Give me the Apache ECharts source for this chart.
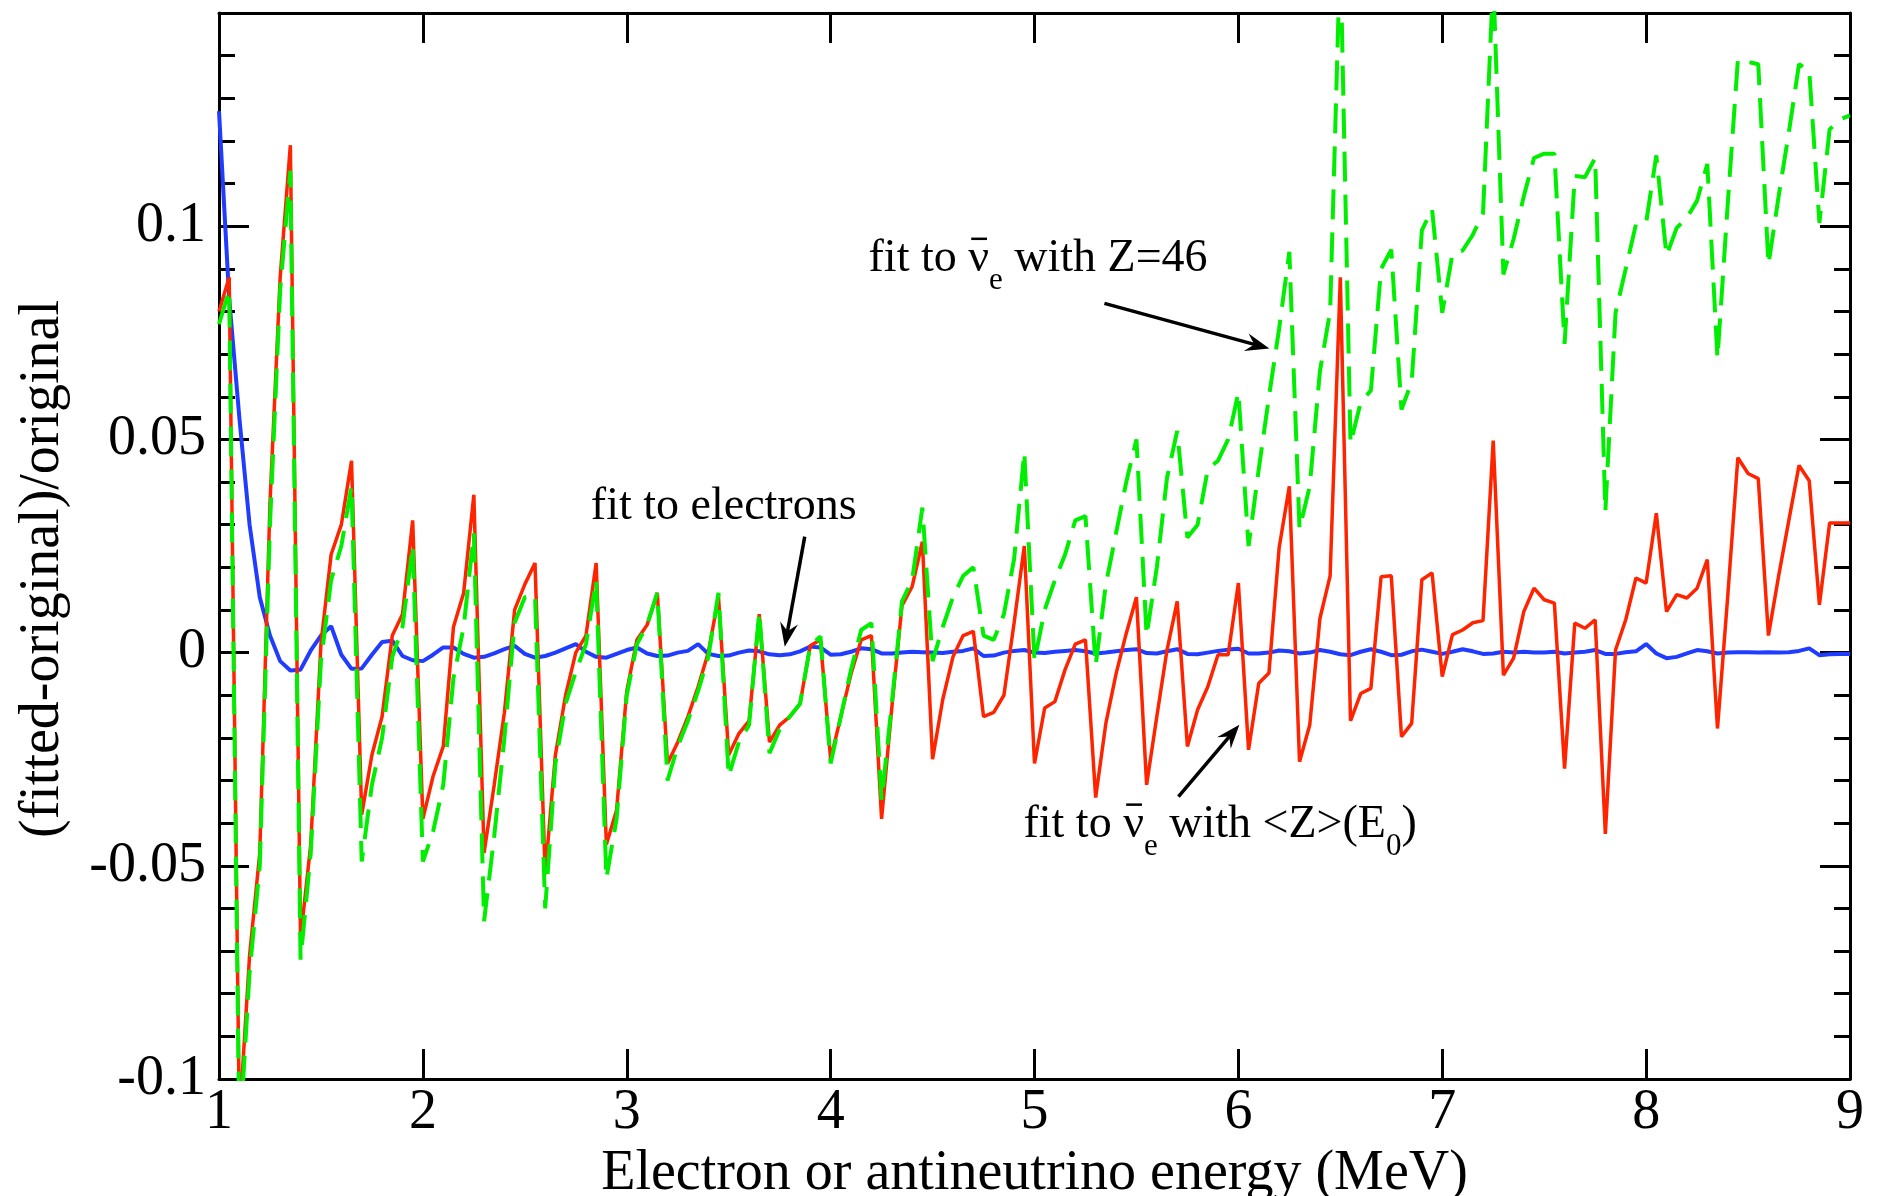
<!DOCTYPE html>
<html>
<head>
<meta charset="utf-8">
<script src="https://cdn.jsdelivr.net/npm/echarts@6/dist/echarts.min.js"></script>
<style>
  html, body { margin: 0; padding: 0; background: #fff; }
  #chart { width: 1879px; height: 1196px; }
</style>
</head>
<body>
<div id="chart"></div>
<script>
// energy grid, MeV
var energy = [
  1.00, 1.05, 1.10, 1.15, 1.20, 1.25, 1.30, 1.35, 1.40, 1.45,
  1.50, 1.55, 1.60, 1.65, 1.70, 1.75, 1.80, 1.85, 1.90, 1.95,
  2.00, 2.05, 2.10, 2.15, 2.20, 2.25, 2.30, 2.35, 2.40, 2.45,
  2.50, 2.55, 2.60, 2.65, 2.70, 2.75, 2.80, 2.85, 2.90, 2.95,
  3.00, 3.05, 3.10, 3.15, 3.20, 3.25, 3.30, 3.35, 3.40, 3.45,
  3.50, 3.55, 3.60, 3.65, 3.70, 3.75, 3.80, 3.85, 3.90, 3.95,
  4.00, 4.05, 4.10, 4.15, 4.20, 4.25, 4.30, 4.35, 4.40, 4.45,
  4.50, 4.55, 4.60, 4.65, 4.70, 4.75, 4.80, 4.85, 4.90, 4.95,
  5.00, 5.05, 5.10, 5.15, 5.20, 5.25, 5.30, 5.35, 5.40, 5.45,
  5.50, 5.55, 5.60, 5.65, 5.70, 5.75, 5.80, 5.85, 5.90, 5.95,
  6.00, 6.05, 6.10, 6.15, 6.20, 6.25, 6.30, 6.35, 6.40, 6.45,
  6.50, 6.55, 6.60, 6.65, 6.70, 6.75, 6.80, 6.85, 6.90, 6.95,
  7.00, 7.05, 7.10, 7.15, 7.20, 7.25, 7.30, 7.35, 7.40, 7.45,
  7.50, 7.55, 7.60, 7.65, 7.70, 7.75, 7.80, 7.85, 7.90, 7.95,
  8.00, 8.05, 8.10, 8.15, 8.20, 8.25, 8.30, 8.35, 8.40, 8.45,
  8.50, 8.55, 8.60, 8.65, 8.70, 8.75, 8.80, 8.85, 8.90, 8.95,
  9.00
];

// (fitted-original)/original, blue: fit to electrons
var electronFit = [
  0.127, 0.083, 0.055, 0.030, 0.013, 0.004, -0.002, -0.0042, -0.004, 0.0005,
  0.004, 0.0062, -0.0005, -0.0038, -0.0037, -0.0005, 0.0025, 0.0028, -0.0008, -0.0018,
  -0.002, -0.0005, 0.0012, 0.0012, -0.0003, -0.0012, -0.001, -0.0002, 0.0008, 0.0016,
  -0.0003, -0.0012, -0.0008, 0, 0.001, 0.002, 0.0002, -0.001, -0.0012, -0.0003,
  0.0006, 0.0012, -0.0002, -0.0008, -0.0007, 0, 0.0004, 0.002, -0.0003, -0.0008,
  -0.0007, 0, 0.0005, 0.0003, -0.0004, -0.0006, -0.0004, 0.0003, 0.0014, 0.0012,
  -0.0005, -0.0004, 0.0002, 0.001, 0.0008, -0.0002, -0.0002, 0, 0.0002, 0.0001,
  0, -0.0001, 0.0002, 0.0004, 0.001, -0.0008, -0.0007, 0, 0.0004, 0.0006,
  0, -0.0001, 0.0002, 0.0004, 0.0006, 0.0003, -0.0002, 0, 0.0003, 0.0006,
  0.0008, -0.0001, -0.0002, 0.0003, 0.0008, -0.0003, -0.0004, 0, 0.0004, 0.0007,
  0.0009, -0.0002, -0.0002, 0, 0.0005, 0.0003, -0.0002, 0, 0.0006, 0.0002,
  -0.0004, -0.0006, 0.0002, 0.0008, 0.0002, -0.0006, -0.0005, 0.0003, 0.0007, 0.0002,
  -0.0003, 0.0002, 0.0008, 0.0003, -0.0003, -0.0002, 0.0002, 0, 0.0002, 0,
  0, 0.0002, -0.0002, 0, 0.0002, 0.0006, -0.0003, -0.0003, 0.0001, 0.0003,
  0.002, -0.0002, -0.0013, -0.001, -0.0002, 0.0006, 0.0003, -0.0002, 0, 0.0001,
  0.0001, 0, 0.0001, 0, 0.0001, 0.0004, 0.001, -0.0006, -0.0004, -0.0003,
  -0.0003
];

// red: fit to antineutrinos with <Z>(E0)
var zAvgFit = [
  0.080, 0.088, -0.110, -0.071, -0.047, 0.035, 0.088, 0.119, -0.067, -0.045,
  0.002, 0.023, 0.030, 0.045, -0.038, -0.024, -0.015, 0.004, 0.009, 0.031,
  -0.039, -0.029, -0.022, 0.006, 0.014, 0.037, -0.047, -0.031, -0.014, 0.010,
  0.016, 0.021, -0.052, -0.024, -0.010, 0.000, 0.004, 0.021, -0.045, -0.037,
  -0.009, 0.003, 0.0065, 0.014, -0.026, -0.021, -0.015, -0.008, 0.000, 0.013,
  -0.024, -0.019, -0.016, 0.009, -0.021, -0.017, -0.015, -0.012, 0.0016, 0.003,
  -0.025, -0.015, -0.005, 0.003, 0.004, -0.039, -0.013, 0.011, 0.0155, 0.026,
  -0.025, -0.011, -0.001, 0.004, 0.005, -0.015, -0.014, -0.010, 0.007, 0.025,
  -0.026, -0.013, -0.0115, -0.004, 0.002, 0.003, -0.034, -0.0166, -0.005, 0.0045,
  0.013, -0.031, -0.015, 0.0006, 0.012, -0.022, -0.0134, -0.008, -0.0005, -0.0005,
  0.0163, -0.0228, -0.0072, -0.0048, 0.0246, 0.039, -0.0256, -0.017, 0.008, 0.018,
  0.088, -0.016, -0.0096, -0.0084, 0.0178, 0.018, -0.0197, -0.0166, 0.0171, 0.0187,
  -0.0056, 0.0042, 0.0053, 0.007, 0.0075, 0.0497, -0.0053, -0.0013, 0.0096, 0.0151,
  0.0124, 0.0116, -0.0272, 0.0069, 0.0057, 0.0077, -0.0425, 0.0006, 0.0077, 0.0175,
  0.0163, 0.0327, 0.0096, 0.0136, 0.0128, 0.0151, 0.0218, -0.0178, 0.013, 0.0457,
  0.042, 0.0408, 0.004, 0.018, 0.031, 0.0439, 0.0403, 0.0112, 0.0304, 0.0304,
  0.0304
];

// green dashed: fit to antineutrinos with Z=46
var z46Fit = [
  0.077, 0.085, -0.115, -0.075, -0.050, 0.030, 0.085, 0.113, -0.072, -0.047,
  -0.002, 0.017, 0.025, 0.039, -0.049, -0.031, -0.020, -0.001, 0.006, 0.025,
  -0.049, -0.042, -0.031, -0.006, 0.006, 0.028, -0.063, -0.043, -0.020, 0.007,
  0.013, 0.0135, -0.060, -0.026, -0.012, -0.0045, 0.002, 0.017, -0.053, -0.039,
  -0.010, 0.002, 0.0065, 0.014, -0.030, -0.022, -0.016, -0.009, -0.001, 0.014,
  -0.029, -0.021, -0.017, 0.0095, -0.0236, -0.018, -0.015, -0.012, 0.0016, 0.0038,
  -0.026, -0.015, -0.004, 0.0053, 0.0069, -0.0346, -0.012, 0.012, 0.017, 0.034,
  -0.002, 0.006, 0.013, 0.018, 0.020, 0.004, 0.003, 0.009, 0.022, 0.047,
  -0.002, 0.010, 0.017, 0.023, 0.031, 0.032, -0.003, 0.016, 0.028, 0.040,
  0.050, 0.004, 0.020, 0.041, 0.052, 0.027, 0.030, 0.043, 0.045, 0.050,
  0.061, 0.025, 0.043, 0.060, 0.076, 0.094, 0.029, 0.039, 0.066, 0.080,
  0.165, 0.049, 0.0587, 0.0615, 0.090, 0.0945, 0.057, 0.0635, 0.099, 0.104,
  0.0797, 0.0935, 0.0943, 0.098, 0.103, 0.158, 0.0887, 0.097, 0.107, 0.116,
  0.117, 0.117, 0.0724, 0.1118, 0.1115, 0.116, 0.0331, 0.0797, 0.090, 0.1004,
  0.1008, 0.1166, 0.0931, 0.0996, 0.102, 0.106, 0.1146, 0.069, 0.105, 0.139,
  0.1385, 0.138, 0.091, 0.107, 0.122, 0.138, 0.1365, 0.1008, 0.1227, 0.125,
  0.126
];

// y tick labels (0.15 at the top frame is left blank)
var yTickLabels = ['-0.1', '-0.05', '0', '0.05', '0.1'];

var FONT = '"Liberation Serif", "Times New Roman", serif';

function pairs(vals) {
  return energy.map(function (e, i) { return [e, vals[i]]; });
}

var chart = echarts.init(document.getElementById('chart'));

var frame = { show: true, onZero: false, lineStyle: { color: '#000', width: 3 } };
var majorTick = { show: true, inside: true, length: 30, lineStyle: { color: '#000', width: 3 } };
var minorTick = { show: true, splitNumber: 5, length: 16, lineStyle: { color: '#000', width: 3 } };

chart.setOption({
  animation: false,
  backgroundColor: '#fff',
  grid: { left: 219, right: 29, top: 13, bottom: 117, containLabel: false, outerBoundsMode: 'none' },
  xAxis: [{
    type: 'value', min: 1, max: 9, interval: 1, position: 'bottom',
    axisLine: frame, axisTick: majorTick, splitLine: { show: false },
    axisLabel: { margin: 6, fontFamily: FONT, fontSize: 56, color: '#000', showMinLabel: true, showMaxLabel: true },
    name: 'Electron or antineutrino energy (MeV)', nameLocation: 'middle', nameGap: 58,
    nameTextStyle: { fontFamily: FONT, fontSize: 56, color: '#000' }
  }, {
    type: 'value', min: 1, max: 9, interval: 1, position: 'top',
    axisLine: frame, axisTick: majorTick, splitLine: { show: false },
    axisLabel: { show: false }
  }],
  yAxis: [{
    type: 'value', min: -0.1, max: 0.15, interval: 0.05, position: 'left',
    axisLine: frame, axisTick: majorTick, minorTick: minorTick,
    splitLine: { show: false }, minorSplitLine: { show: false },
    axisLabel: {
      margin: 13, fontFamily: FONT, fontSize: 56, color: '#000',
      showMinLabel: true, showMaxLabel: true,
      formatter: function (v) {
        var s = String(Number(v.toFixed(3)));
        return yTickLabels.indexOf(s) >= 0 ? s : '';
      }
    },
    name: '(fitted-original)/original', nameLocation: 'middle', nameGap: 148,
    nameTextStyle: { fontFamily: FONT, fontSize: 56, color: '#000', padding: [0, 46, 0, 0] }
  }, {
    type: 'value', min: -0.1, max: 0.15, interval: 0.05, position: 'right',
    axisLine: frame, axisTick: majorTick, minorTick: minorTick,
    splitLine: { show: false }, minorSplitLine: { show: false },
    axisLabel: { show: false }
  }],
  series: [{
    name: 'fit to electrons', type: 'line', data: pairs(electronFit),
    showSymbol: false, smooth: false, clip: true,
    lineStyle: { color: '#1f3cff', width: 4 }
  }, {
    name: 'fit to antineutrinos with <Z>(E0)', type: 'line', data: pairs(zAvgFit),
    showSymbol: false, smooth: false, clip: true,
    lineStyle: { color: '#ff2400', width: 3.5 }
  }, {
    name: 'fit to antineutrinos with Z=46', type: 'line', data: pairs(z46Fit),
    showSymbol: false, smooth: false, clip: true,
    lineStyle: { color: '#00ee00', width: 4, type: [30, 13] }
  }]
});

// ---- annotations (placed in data coordinates) ----
var MAIN = 46, SUB = 31;
var annotations = [
  { at: [2.824, 0.0305], parts: [['fit to electrons', 'n']] },
  { at: [4.186, 0.0886], parts: [['fit to ', 'n'], ['\u03bd', 'bar'], ['e', 'sub'], [' with Z=46', 'n']] },
  { at: [4.946, -0.0441], parts: [['fit to ', 'n'], ['\u03bd', 'bar'], ['e', 'sub'], [' with <Z>(E', 'n'], ['0', 'sub'], [')', 'n']] }
];
var arrows = [
  { from: [3.873, 0.0272], to: [3.775, 0.0014] },
  { from: [5.343, 0.0819], to: [6.152, 0.0713] },
  { from: [5.706, -0.0338], to: [6.005, -0.0169] }
];

var ctx = document.createElement('canvas').getContext('2d');
function textWidth(str, size) {
  ctx.font = size + 'px ' + FONT;
  return ctx.measureText(str).width;
}
function toPx(p) { return chart.convertToPixel({ xAxisIndex: 0, yAxisIndex: 0 }, p); }

function textEl(x, baseline, str, size) {
  return {
    type: 'text', x: x, y: baseline - 0.3375 * size, silent: true, z: 100,
    style: {
      text: str, font: size + 'px ' + FONT, fill: '#000',
      align: 'left', verticalAlign: 'middle', textAlign: 'left', textVerticalAlign: 'middle'
    }
  };
}

var graphics = [];
annotations.forEach(function (a) {
  var p = toPx(a.at);
  var x = p[0], base = p[1];
  a.parts.forEach(function (part) {
    var str = part[0], kind = part[1];
    if (kind === 'sub') {
      graphics.push(textEl(x, base + 17, str, SUB));
      x += textWidth(str, SUB);
    } else {
      graphics.push(textEl(x, base, str, MAIN));
      var w = textWidth(str, MAIN);
      if (kind === 'bar') {
        graphics.push({
          type: 'line', silent: true, z: 100,
          shape: { x1: x + 3, y1: base - 36, x2: x + w - 2, y2: base - 36 },
          style: { stroke: '#000', lineWidth: 2.5 }
        });
      }
      x += w;
    }
  });
});

arrows.forEach(function (a) {
  var s = toPx(a.from), t = toPx(a.to);
  var dx = t[0] - s[0], dy = t[1] - s[1];
  var len = Math.sqrt(dx * dx + dy * dy);
  var ux = dx / len, uy = dy / len, px = -uy, py = ux;
  var L = 24, W = 9;
  graphics.push({
    type: 'line', silent: true, z: 100,
    shape: { x1: s[0], y1: s[1], x2: t[0] - ux * 10, y2: t[1] - uy * 10 },
    style: { stroke: '#000', lineWidth: 3.5 }
  });
  graphics.push({
    type: 'polygon', silent: true, z: 100,
    shape: { points: [
      [t[0], t[1]],
      [t[0] - ux * L + px * W, t[1] - uy * L + py * W],
      [t[0] - ux * L * 0.65, t[1] - uy * L * 0.65],
      [t[0] - ux * L - px * W, t[1] - uy * L - py * W]
    ] },
    style: { fill: '#000' }
  });
});

chart.setOption({ graphic: graphics });
</script>
</body>
</html>
